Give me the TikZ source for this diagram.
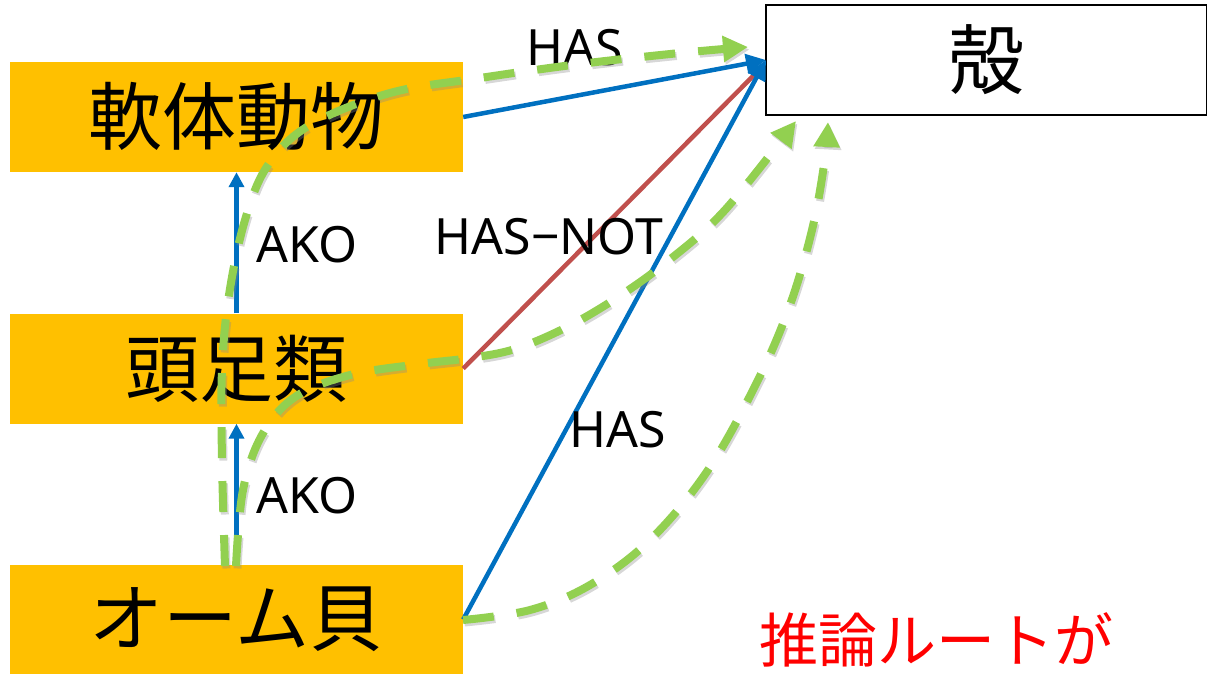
\documentclass[tikz,border=0pt]{standalone}
\usepackage{fontspec}
\setmainfont{Noto Sans CJK JP}
\newfontfamily\lblfont{Noto Sans}
\usetikzlibrary{arrows.meta}
\definecolor{boxor}{HTML}{FFC000}
\definecolor{lblue}{HTML}{0070C0}
\definecolor{lred}{HTML}{C0504D}
\definecolor{lgreen}{HTML}{92D050}
\begin{document}
\begin{tikzpicture}[x=1pt,y=-1pt,
  obox/.style={fill=boxor, minimum width=453pt, minimum height=110pt, inner sep=0pt, font=\fontsize{74}{80}\selectfont},
  wbox/.style={draw=black, line width=1.5pt, fill=white, minimum width=441pt, minimum height=110pt, inner sep=0pt, font=\fontsize{76}{80}\selectfont},
  lbl/.style={font=\lblfont\fontsize{50}{54}\selectfont, inner sep=0pt},
  bluearrow/.style={draw=lblue, line width=4.5pt, -{Triangle[length=20pt,width=19pt]}},
  akoarrow/.style={draw=lblue, line width=4.5pt, -{Triangle[length=15pt,width=15pt]}},
  redline/.style={draw=lred, line width=4.5pt},
  greenpath/.style={draw=lgreen, line width=8pt, dash pattern=on 31pt off 23pt,
    -{Triangle[length=25pt,width=25pt]},
    preaction={draw=black!45, opacity=0.35, line width=8pt, dash pattern=on 31pt off 23pt, transform canvas={shift={(1.5pt,-2.5pt)}}, -{Triangle[length=25pt,width=25pt]}}}
]
\useasboundingbox (0,0) rectangle (1207,673);
\node[obox] (m) at (236.5,117) {軟体動物};
\node[obox] (h) at (236.5,368.5) {頭足類};
\node[obox] (o) at (236.5,619.5) {オーム貝};
\node[wbox] (s) at (986.5,60) {殻};

\coordinate (st) at (766,60);
\coordinate (rt) at (760,69);
\draw[redline] (h.east) -- (rt);
\draw[bluearrow] (m.east) -- (st);
\draw[bluearrow] (o.east) -- (st);
\draw[akoarrow] (h.north) -- (m.south);
\draw[akoarrow] (o.north) -- (h.south);

\node[lbl] (l1) at (575,48) {HAS};
\node[lbl] (l2) at (307,245) {AKO};
\node[lbl] (l3) at (549,237) {HAS−NOT};
\node[lbl] (l4) at (618,430) {HAS};
\node[lbl] (l5) at (307,496) {AKO};
\node[font=\fontsize{59}{62}\selectfont, text=red, inner sep=0pt] (t) at (936,640) {推論ルートが};

\coordinate (g1s) at (225,566);
\coordinate (g1e) at (748,47);
\coordinate (g2s) at (236,566);
\coordinate (g2e) at (796,121);
\coordinate (g3s) at (463,620);
\coordinate (g3e) at (828,122);

\draw[greenpath] plot[smooth, tension=0.6] coordinates {(g1s) (222,460) (222,370) (229,295) (245,220) (268,165) (310,125) (390,93) (480,78) (580,64) (680,53) (g1e)};
\draw[greenpath] plot[smooth, tension=0.6] coordinates {(g2s) (243,490) (262,435) (295,397) (350,375) (420,364) (470,358) (515,349) (565,328) (615,299) (668,261) (725,210) (g2e)};
\draw[greenpath] plot[smooth, tension=0.6] coordinates {(g3s) (530,610) (590,585) (650,540) (708,470) (758,380) (790,305) (812,230) (824,165) (g3e)};
\end{tikzpicture}
\end{document}
